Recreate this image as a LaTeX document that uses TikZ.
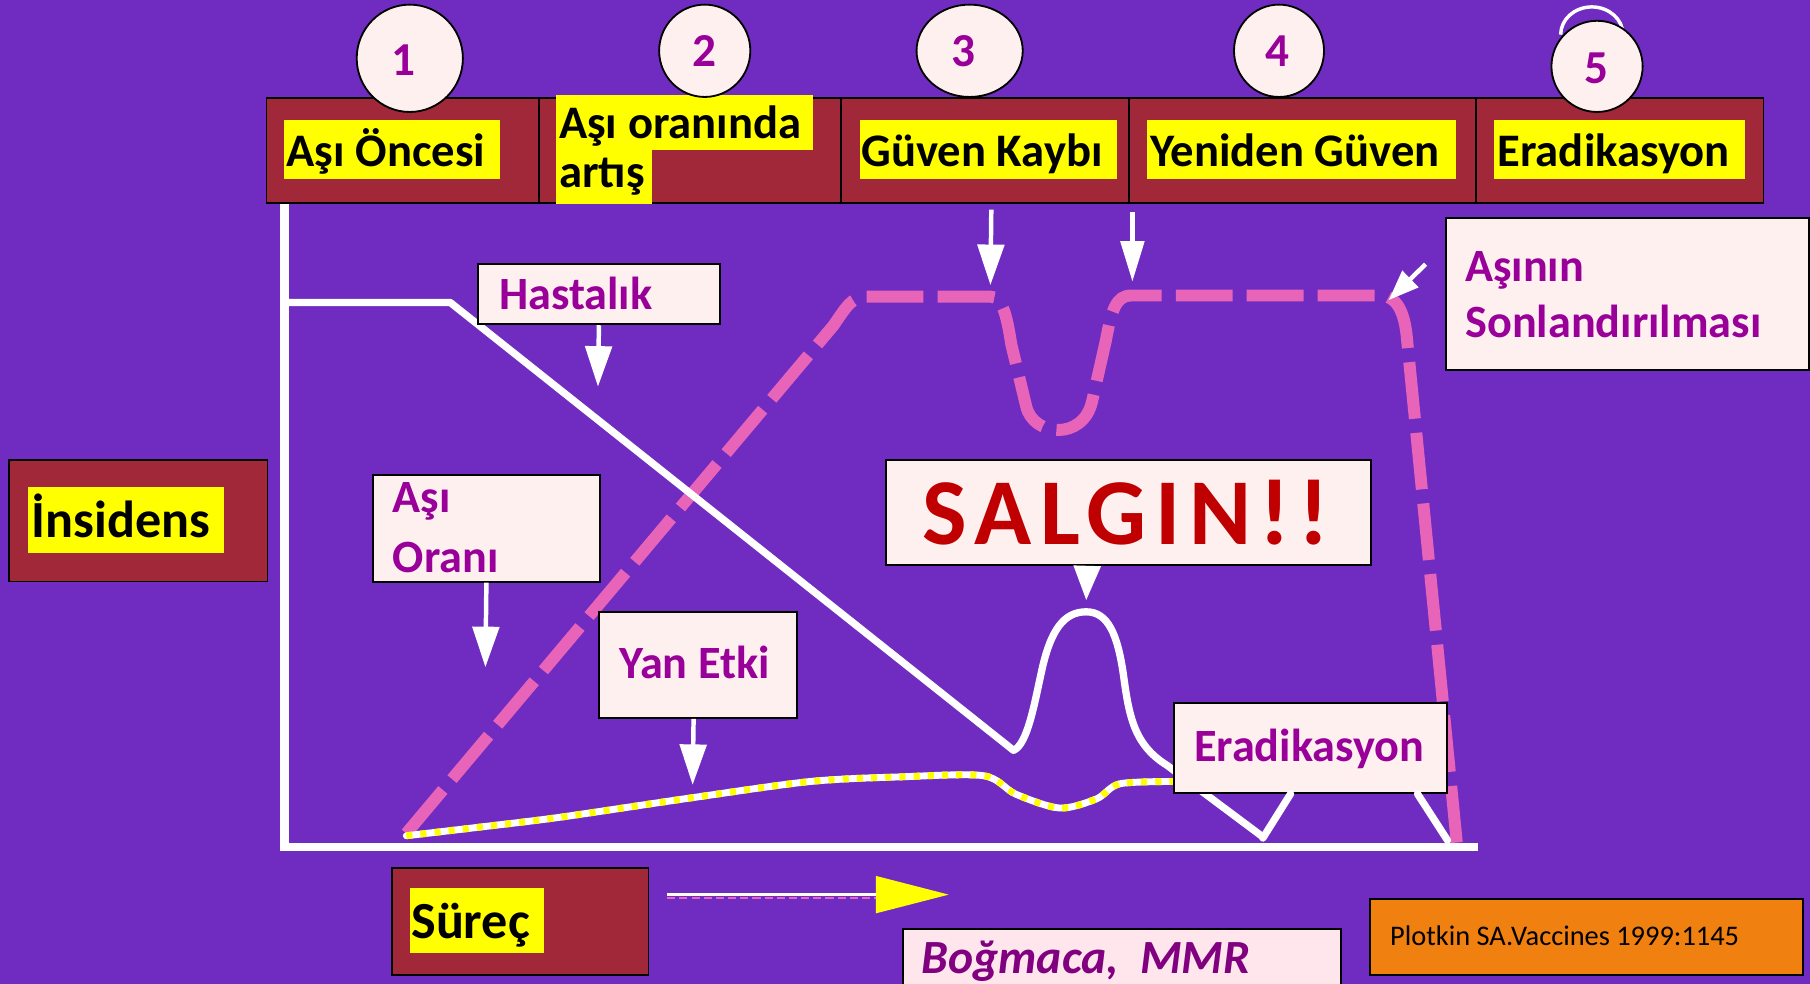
\documentclass[tikz,border=0pt]{standalone}
\usepackage{fontspec}
\setmainfont{Carlito}
\usetikzlibrary{arrows.meta,shapes.geometric,calc}
\definecolor{bgp}{RGB}{112,44,192}
\definecolor{maroonc}{RGB}{160,40,56}
\definecolor{lblfill}{RGB}{255,240,240}
\definecolor{lbltext}{RGB}{153,0,153}
\definecolor{pinkc}{RGB}{232,100,184}
\definecolor{hiyel}{RGB}{255,255,0}
\definecolor{salred}{RGB}{192,0,0}
\definecolor{orangec}{RGB}{240,128,16}
\definecolor{bogfill}{RGB}{255,230,236}
\definecolor{bogtext}{RGB}{128,0,128}
\begin{document}
\begin{tikzpicture}[x=0.02cm,y=-0.02cm,
  hdr/.style={draw=black,line width=0.9pt,fill=maroonc,inner sep=0pt,anchor=north west},
  lblbox/.style={draw=black,line width=1pt,fill=lblfill,inner sep=0pt,anchor=north west},
  numcirc/.style={ellipse,draw=black,line width=0.9pt,fill=lblfill,inner sep=0pt},
  numtxt/.style={anchor=base,inner sep=0pt,text=lbltext,font=\fontsize{23.3}{28}\selectfont\bfseries},
  htxt/.style={anchor=base west,inner sep=0pt,text=black,font=\fontsize{23}{28}\selectfont\bfseries},
  btxt/.style={anchor=base west,inner sep=0pt,text=black,font=\fontsize{25.7}{30}\selectfont\bfseries},
  ltxt/.style={anchor=base west,inner sep=0pt,text=lbltext,font=\fontsize{22.8}{28}\selectfont\bfseries},
  wline/.style={white,line width=3.6pt,line cap=round,line join=round},
  warr/.style={white,line width=2.2pt,-{Triangle[width=13pt,length=20pt]}},
  pinkdash/.style={pinkc,line width=5.9pt,dash pattern=on 28pt off 7pt},
]
\useasboundingbox (0,0) rectangle (1568,852);
\fill[bgp] (0,0) rectangle (1568,852);

% axes
\draw[white,line width=4pt] (246.5,175) -- (246.5,734) -- (1280,734);

% vaccination rate (pink dashed)
\draw[pinkdash] (352,722) -- (722,282) .. controls (733,266) and (738,257) .. (750,257) -- (858,257)
  .. controls (868,257) and (872,272) .. (876,298) -- (889,352)
  .. controls (895,378) and (938,382) .. (946,348) -- (958,295)
  .. controls (963,268) and (967,256) .. (980,256) -- (1195,256)
  .. controls (1210,256) and (1217,270) .. (1219,295) -- (1262,730);

% side effects line
\draw[white,line width=3.4pt,line cap=round] plot[smooth] coordinates {(352,724) (420,716) (485,708) (600,691) (702,677) (780,673) (852,672) (880,688) (918,700) (950,692) (970,679) (1016,677)};
\draw[hiyel,line width=3.4pt,dash pattern=on 3pt off 4pt] plot[smooth] coordinates {(352,724) (420,716) (485,708) (600,691) (702,677) (780,673) (852,672) (880,688) (918,700) (950,692) (970,679) (1016,677)};

% disease line
\draw[wline] (250,262) -- (390,262) -- (878,650)
  .. controls (890,645) and (896,610) .. (902,583)
  .. controls (910,545) and (922,530) .. (941,530)
  .. controls (960,530) and (968,550) .. (973,583)
  .. controls (978,620) and (982,645) .. (1011,663) -- (1094,725);

% header boxes
\node[hdr,minimum width=4.72cm,minimum height=1.82cm] (h1) at (230,84) {};
\node[hdr,minimum width=5.24cm,minimum height=1.82cm] (h2) at (466,84) {};
\node[hdr,minimum width=4.98cm,minimum height=1.82cm] (h3) at (728,84) {};
\node[hdr,minimum width=6.02cm,minimum height=1.82cm] (h4) at (977,84) {};
\node[hdr,minimum width=4.98cm,minimum height=1.82cm] (h5) at (1278,84) {};

% yellow highlights
\fill[hiyel] (246,104) rectangle (433,155);
\fill[hiyel] (482,82) rectangle (704,130);
\fill[hiyel] (482,130) rectangle (565,177);
\fill[hiyel] (745,104) rectangle (968,155);
\fill[hiyel] (994,104) rectangle (1261,155);
\fill[hiyel] (1294,104) rectangle (1512,155);

\node[htxt] (t1) at (248,144) {Aşı Öncesi};
\node[htxt] (t2a) at (484,120) {Aşı oranında};
\node[htxt] (t2b) at (484,162) {artış};
\node[htxt] (t3) at (746,144) {Güven Kaybı};
\node[htxt] (t4) at (996,144) {Yeniden Güven};
\node[htxt] (t5) at (1297,144) {Eradikasyon};

% ghost arc above circle 5
\draw[white,line width=1.7pt] (1352,30) arc[start angle=180,end angle=360,x radius=27,y radius=24];

% number circles
\node[numcirc,minimum width=1.84cm,minimum height=1.86cm] (c1) at (355,50.5) {};
\node[numcirc,minimum width=1.58cm,minimum height=1.6cm] (c2) at (610.5,44) {};
\node[numcirc,minimum width=1.84cm,minimum height=1.6cm] (c3) at (840,44) {};
\node[numcirc,minimum width=1.56cm,minimum height=1.6cm] (c4) at (1108,44) {};
\node[numcirc,minimum width=1.58cm,minimum height=1.58cm] (c5) at (1383.5,57.5) {};
\node[numtxt] (n1) at (349.6,65) {1};
\node[numtxt] (n2) at (610,58) {2};
\node[numtxt] (n3) at (835,58) {3};
\node[numtxt] (n4) at (1107,58) {4};
\node[numtxt] (n5) at (1383,72) {5};

% Insidens
\node[hdr,minimum width=4.48cm,minimum height=2.10cm] (ins) at (7,398) {};
\fill[hiyel] (24,422) rectangle (194,479);
\node[btxt] (tins) at (27,466) {İnsidens};

% Süreç
\node[hdr,minimum width=4.44cm,minimum height=1.86cm] (sur) at (339,751) {};
\fill[hiyel] (355,769) rectangle (471,826);
\node[btxt] (tsur) at (356,813) {Süreç};

% process arrow
\coordinate (pa) at (578,775);
\coordinate (pb) at (822,775);
\draw[pinkc,line width=1.3pt,dash pattern=on 4pt off 2pt] (578,778) -- (760,778);
\draw[white,line width=1.7pt,-{Triangle[width=18pt,length=36pt,color=hiyel]}] (pa) -- (pb);

% labels
\node[lblbox,minimum width=4.2cm,minimum height=1.04cm] (hast) at (413,228) {};
\node[ltxt] (thast) at (432,268) {Hastalık};
\coordinate (hastend) at (518,335);
\draw[warr] (hast.south) -- (hastend);

\node[lblbox,minimum width=3.94cm,minimum height=1.84cm] (asi) at (322,411) {};
\node[ltxt] (tasi1) at (340,444) {Aşı};
\node[ltxt] (tasi2) at (340,496) {Oranı};
\coordinate (asiend) at (420.5,578);
\draw[warr] (asi.south) -- (asiend);

\node[lblbox,minimum width=3.44cm,minimum height=1.84cm] (yan) at (518,529) {};
\node[ltxt] (tyan) at (536,588) {Yan Etki};
\coordinate (yanend) at (600,680);
\draw[warr] ($(yan.south)+(-4,0)$) -- (yanend);

\node[lblbox,minimum width=8.4cm,minimum height=1.82cm] (salgin) at (767,398) {};
\node[anchor=base west,inner sep=0pt,text=salred,font=\fontsize{46.5}{50}\selectfont\bfseries\addfontfeatures{LetterSpace=9}] (tsal) at (799,472) {SALGIN!!};
\coordinate (salend) at (941,520);
\draw[white,line width=2.2pt,-{Triangle[width=13pt,length=17pt]}] ($(salgin.south)+(-36,0)$) -- (salend);

% Güven / Yeniden arrows
\coordinate (gkend) at (858,247);
\draw[warr] ($(h3.south)+(5.5,5)$) -- (gkend);
\coordinate (ygend) at (981,244);
\draw[white,line width=2.2pt,-{Triangle[width=11.5pt,length=20pt]}] ($(h4.south west)+(4,7)$) -- (ygend);

% Aşının Sonlandırılması
\node[lblbox,minimum width=6.28cm,minimum height=2.64cm] (asinin) at (1252,188) {};
\node[ltxt] (tasn1) at (1269,244) {Aşının};
\node[ltxt] (tasn2) at (1269,292) {Sonlandırılması};
\coordinate (asnend) at (1203,260);
\draw[white,line width=2.2pt,-{Triangle[width=11pt,length=15pt]}] ($(asinin.west)+(-17,-26)$) -- (asnend);

% Eradikasyon label
\node[lblbox,minimum width=4.74cm,minimum height=1.56cm] (erad) at (1016,608) {};
\node[ltxt] (terad) at (1034,660) {Eradikasyon};
\coordinate (ev1) at (1094,726);
\coordinate (ev2) at (1254,728);
\draw[wline] ($(erad.south west)+(102,0)$) -- (ev1);
\draw[wline] ($(erad.south west)+(212,0)$) -- (ev2);

% Boğmaca, MMR
\node[draw=black,line width=1pt,fill=bogfill,inner sep=0pt,anchor=north west,minimum width=7.6cm,minimum height=1.2cm] (bog) at (781,804) {};
\node[anchor=base west,inner sep=0pt,text=bogtext,font=\fontsize{23.5}{28}\selectfont\bfseries\itshape] (tbog) at (798,843) {Boğmaca,\ \ MMR};

% Plotkin
\node[draw=black,line width=1pt,fill=orangec,inner sep=0pt,anchor=north west,minimum width=7.5cm,minimum height=1.32cm] (plot) at (1186,778) {};
\node[anchor=base west,inner sep=0pt,text=black,font=\fontsize{14}{17}\selectfont] (tplot) at (1204,819) {Plotkin SA.Vaccines 1999:1145};
\end{tikzpicture}
\end{document}
